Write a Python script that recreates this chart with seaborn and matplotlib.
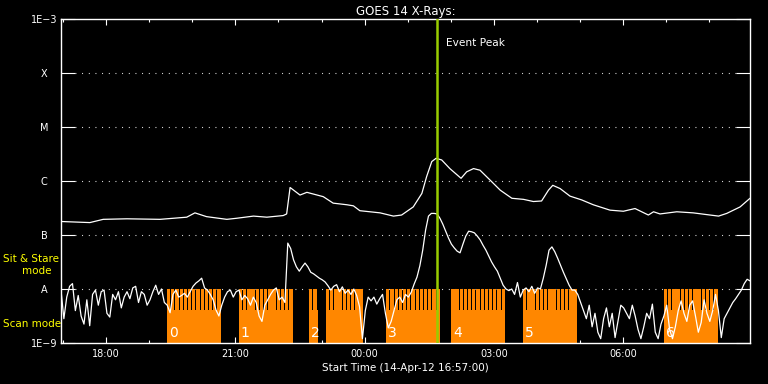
import numpy as np
import pandas as pd
import seaborn as sns
import matplotlib.pyplot as plt
from matplotlib.ticker import NullLocator, FixedLocator

# hours after start time 14-Apr-12 16:57:00
start_label = "Start Time (14-Apr-12 16:57:00)"
event_peak_h = 8.72

# GOES long channel (1-8 A), log10 flux
long_hours = [0.0, 0.67, 0.98, 1.53, 2.30, 2.92, 3.11, 3.38, 3.85, 4.08, 4.47, 4.78, 5.16, 5.24,
              5.32, 5.55, 5.71, 6.09, 6.32, 6.64, 6.79, 6.94, 7.41, 7.72, 7.91, 8.18, 8.38, 8.49,
              8.61, 8.71, 8.84, 9.03, 9.29, 9.42, 9.58, 9.73, 9.96, 10.20, 10.47, 10.74, 10.97,
              11.16, 11.32, 11.42, 11.59, 11.82, 12.09, 12.36, 12.75, 13.06, 13.33, 13.64, 13.76,
              13.91, 14.30, 14.68, 15.07, 15.27, 15.46, 15.77, 16.0]
long_log = [-6.75, -6.77, -6.71, -6.70, -6.71, -6.67, -6.59, -6.66, -6.71, -6.69, -6.65, -6.67,
            -6.64, -6.61, -6.12, -6.26, -6.21, -6.29, -6.41, -6.44, -6.46, -6.55, -6.59, -6.65,
            -6.63, -6.48, -6.23, -5.92, -5.64, -5.58, -5.61, -5.77, -5.95, -5.83, -5.77, -5.80,
            -5.98, -6.17, -6.32, -6.34, -6.38, -6.37, -6.17, -6.08, -6.14, -6.28, -6.35, -6.44,
            -6.54, -6.56, -6.51, -6.63, -6.57, -6.61, -6.57, -6.59, -6.63, -6.65, -6.60, -6.48,
            -6.32]

# GOES short channel (0.5-4 A), 4 minute cadence, log10 flux
short_minutes = np.arange(0, 961, 4)
short_log = [
    -8.02, -8.55, -8.15, -7.95, -7.90, -8.40, -8.12, -8.50, -8.65, -8.20,
    -8.68, -8.10, -8.02, -8.30, -8.05, -8.02, -8.45, -8.52, -8.10, -8.20,
    -8.05, -8.35, -8.15, -8.05, -8.18, -7.98, -7.95, -8.25, -8.05, -8.10,
    -8.30, -8.20, -8.05, -7.93, -8.10, -8.00, -8.25, -8.30, -8.44, -8.10,
    -8.02, -8.15, -8.12, -8.08, -8.15, -8.05, -7.95, -7.89, -7.85, -7.80,
    -7.98, -8.02, -8.10, -8.20, -8.39, -8.50, -8.30, -8.15, -8.05, -8.02,
    -8.15, -8.05, -8.02, -8.20, -8.12, -8.18, -8.30, -8.15, -8.25, -8.50,
    -8.60, -8.30, -8.20, -8.10, -8.02, -7.98, -8.20, -8.15, -8.25, -7.15,
    -7.25, -7.46, -7.59, -7.67, -7.59, -7.52, -7.59, -7.69, -7.72, -7.76,
    -7.80, -7.83, -7.87, -7.94, -8.02, -7.95, -7.92, -8.05, -7.96, -8.08,
    -8.02, -8.10, -8.00, -8.12, -8.33, -8.92, -8.40, -8.15, -8.22, -8.15,
    -8.28, -8.18, -8.10, -8.45, -8.72, -8.60, -8.40, -8.20, -8.15, -8.25,
    -8.10, -8.15, -8.06, -7.91, -7.78, -7.57, -7.28, -6.91, -6.65, -6.60,
    -6.60, -6.61, -6.69, -6.80, -6.93, -7.06, -7.17, -7.24, -7.30, -7.33,
    -7.17, -7.02, -6.93, -6.94, -6.96, -7.02, -7.09, -7.19, -7.28, -7.39,
    -7.50, -7.59, -7.67, -7.80, -7.93, -8.00, -8.03, -8.00, -8.10, -7.88,
    -8.15, -8.02, -7.98, -8.05, -7.95, -8.08, -7.98, -8.00, -7.80, -7.56,
    -7.28, -7.22, -7.31, -7.43, -7.56, -7.69, -7.81, -7.93, -8.02, -8.02,
    -8.10, -8.25, -8.40, -8.55, -8.30, -8.70, -8.45, -8.80, -8.92, -8.55,
    -8.35, -8.70, -8.45, -8.90, -8.60, -8.30, -8.35, -8.45, -8.55, -8.30,
    -8.50, -8.75, -8.92, -8.70, -8.45, -8.55, -8.28, -8.80, -8.92, -8.65,
    -8.50, -8.30, -8.75, -8.92, -8.70, -8.40, -8.22, -8.45, -8.60, -8.30,
    -8.22, -8.50, -8.80, -8.62, -8.20, -8.45, -8.60, -8.40, -8.10, -8.40,
    -8.90, -8.55, -8.45, -8.35, -8.25, -8.18, -8.10, -8.02, -7.90, -7.82,
    -7.85]

# IRIS observation segments (hours), label shown at segment start
obs_start = [2.46, 4.13, 5.76, 6.15, 7.55, 9.06, 10.73, 14.00]
obs_end = [3.67, 5.34, 5.97, 6.97, 8.76, 10.27, 11.94, 15.24]
obs_label = ["0", "1", "2", "", "3", "4", "5", "6"]
raster_step_h = 0.0975
scan_level = 10 ** -8.39
sit_level = 1e-8

xtick_pos = [1.05, 4.05, 7.05, 10.05, 13.05]
xtick_lab = ["18:00", "21:00", "00:00", "03:00", "06:00"]
ytick_lab = ["1E\u22129", "A", "B", "C", "M", "X", "1E\u22123"]

orange = "#ff8700"
green = "#99cc00"

sns.set_theme(style="ticks", rc={
    "axes.facecolor": "black", "figure.facecolor": "black",
    "axes.edgecolor": "white", "xtick.color": "white", "ytick.color": "white",
    "text.color": "white", "axes.labelcolor": "white",
})
plt.rcParams["font.family"] = ["DejaVu Sans"]

fig = plt.figure(figsize=(7.68, 3.84), dpi=100)
ax = fig.add_axes([61 / 768, 41 / 384, 689 / 768, 324 / 384])
ax.set_yscale("log")

# orange observation blocks: solid scan part plus raster-step comb on top
for s, e, lab in zip(obs_start, obs_end, obs_label):
    ax.bar(s, scan_level - 1e-9, width=e - s, bottom=1e-9, align="edge",
           color=orange, linewidth=0, zorder=2)
    lefts = np.arange(s, e - 0.03, raster_step_h)
    ax.bar(lefts, sit_level - 1e-9, width=raster_step_h * 0.8, bottom=1e-9,
           align="edge", color=orange, linewidth=0, antialiased=False, zorder=2)
    if lab:
        ax.annotate(lab, xy=(s, 10 ** -8.82), xytext=(1.5, 0), textcoords="offset points",
                    va="center", ha="left", fontsize=10, color="white", zorder=5)

# dotted level lines
for lv in [-8, -7, -6, -5, -4]:
    ax.axhline(10 ** lv, xmin=14 / 689, xmax=675 / 689, color="white", lw=0.8,
               ls=(0, (0.8, 5.2)), zorder=1)

long_df = pd.DataFrame({"h": long_hours, "flux": 10 ** np.array(long_log)})
short_df = pd.DataFrame({"h": short_minutes / 60, "flux": 10 ** np.array(short_log)})
sns.lineplot(data=long_df, x="h", y="flux", ax=ax, color="white", lw=0.9,
             estimator=None, sort=False, zorder=3)
sns.lineplot(data=short_df, x="h", y="flux", ax=ax, color="white", lw=0.9,
             estimator=None, sort=False, zorder=3)

ax.axvline(event_peak_h, color=green, lw=1.8, zorder=4)
ax.annotate("Event Peak", xy=(event_peak_h, 10 ** -3.44), xytext=(7, 0),
            textcoords="offset points", va="center", ha="left", fontsize=7.6)

ax.set_xlim(0, 16)
ax.set_ylim(1e-9, 1e-3)
ax.set_yticks([10.0 ** p for p in range(-9, -2)])
ax.set_yticklabels(ytick_lab)
ax.yaxis.set_minor_locator(NullLocator())
for t in ax.get_yticklabels():
    t.set_ha("center")
ax.set_xticks(xtick_pos)
ax.set_xticklabels(xtick_lab)
ax.xaxis.set_minor_locator(FixedLocator(np.arange(0.05, 16, 1.0)))

ax.tick_params(axis="y", which="major", direction="in", length=10, width=0.8,
               left=True, right=True, labelsize=7, pad=12)
ax.tick_params(axis="x", which="major", direction="in", length=4.3, width=0.8,
               top=True, bottom=True, labelsize=7, pad=4)
ax.tick_params(axis="x", which="minor", direction="in", length=2.5, width=0.8,
               top=True, bottom=True)
for sp in ax.spines.values():
    sp.set_color("white")
    sp.set_linewidth(1.0)

ax.set_xlabel(start_label, fontsize=7.5, labelpad=3)
ax.set_ylabel("")
ax.set_title("GOES 14 X-Rays:", fontsize=8.5, pad=3, color="white")

fig.text(3 / 768, 1 - 259 / 384, "Sit & Stare", color="yellow", fontsize=7.5,
         ha="left", va="center")
fig.text(37 / 768, 1 - 271 / 384, "mode", color="yellow", fontsize=7.5,
         ha="center", va="center")
fig.text(3 / 768, 1 - 324 / 384, "Scan mode", color="yellow", fontsize=7.5,
         ha="left", va="center")

fig.savefig("out.png", dpi=100, facecolor="black")
